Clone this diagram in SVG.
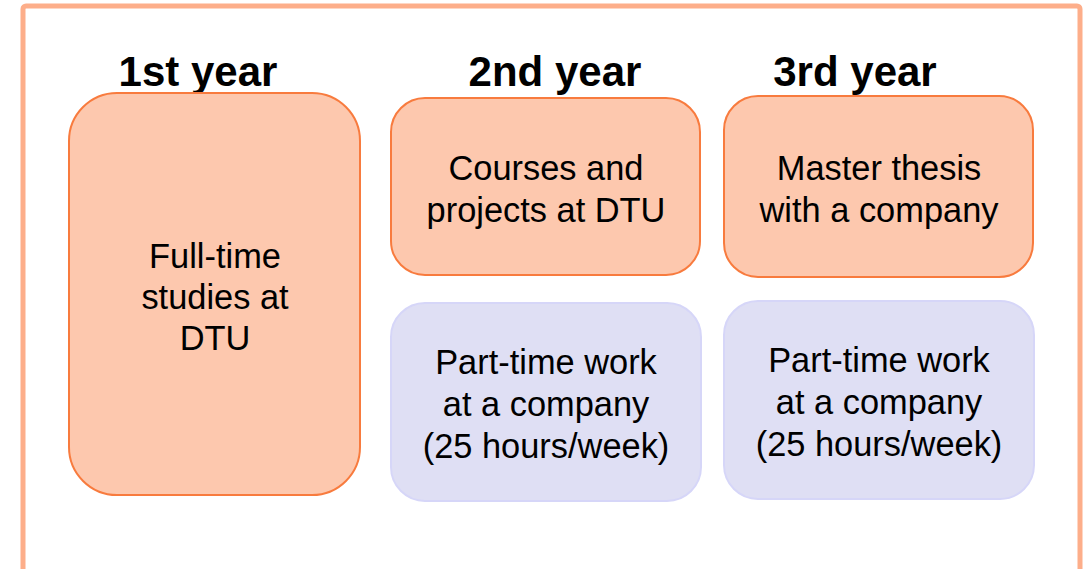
<svg xmlns="http://www.w3.org/2000/svg" width="1087" height="569" viewBox="0 0 1087 569">
<style>
.t{font-family:"Liberation Sans",Arial,sans-serif;font-size:34.4px;fill:#000;text-anchor:middle}
.h{font-family:"Liberation Sans",Arial,sans-serif;font-size:42px;font-weight:bold;fill:#000;text-anchor:middle}
.o{fill:#FDC8AE;stroke:#F87B3E;stroke-width:2}
.p{fill:#DFDFF4;stroke:#D6D6F8;stroke-width:2}
</style>
<rect x="23" y="6" width="1057" height="580" rx="3" fill="#fff" stroke="#FDAE8A" stroke-width="5"/>
<g id="headers">
<text class="h" x="198" y="86">1st year</text>
<text class="h" x="555" y="86">2nd year</text>
<text class="h" x="855" y="86">3rd year</text>
</g>
<g id="year1">
<rect class="o" x="69" y="93" width="291" height="402" rx="48"/>
<text class="t" x="215" y="268">Full-time</text>
<text class="t" x="215" y="309">studies at</text>
<text class="t" x="215" y="350">DTU</text>
</g>
<g id="year2-courses">
<rect class="o" x="391" y="98" width="309" height="177" rx="34"/>
<text class="t" x="546" y="180">Courses and</text>
<text class="t" x="546" y="222">projects at DTU</text>
</g>
<g id="year3-thesis">
<rect class="o" x="724" y="96" width="309" height="181" rx="34"/>
<text class="t" x="879" y="180">Master thesis</text>
<text class="t" x="879" y="222">with a company</text>
</g>
<g id="year2-work">
<rect class="p" x="391" y="303" width="310" height="198" rx="34"/>
<text class="t" x="546" y="374">Part-time work</text>
<text class="t" x="546" y="416">at a company</text>
<text class="t" x="546" y="458">(25 hours/week)</text>
</g>
<g id="year3-work">
<rect class="p" x="724" y="301" width="310" height="198" rx="34"/>
<text class="t" x="879" y="372">Part-time work</text>
<text class="t" x="879" y="414">at a company</text>
<text class="t" x="879" y="456">(25 hours/week)</text>
</g>
<g id="connectors"/>
</svg>
